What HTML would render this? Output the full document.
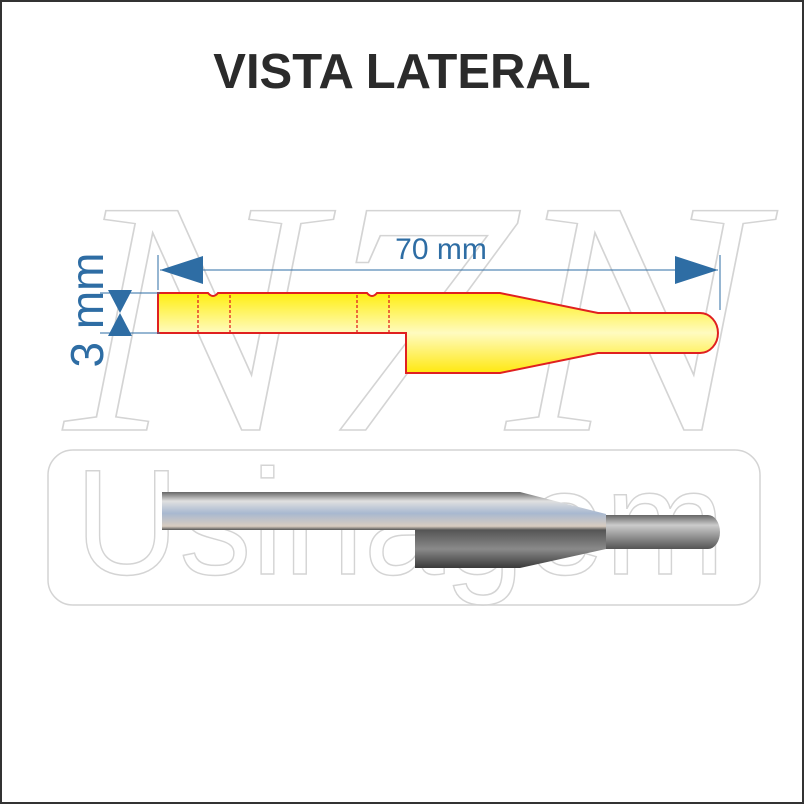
<!DOCTYPE html>
<html><head><style>
body{margin:0;background:#fff}
</style></head><body>
<svg width="804" height="804" viewBox="0 0 804 804" xmlns="http://www.w3.org/2000/svg">
<defs>
<linearGradient id="y" x1="0" y1="0" x2="0" y2="1">
<stop offset="0" stop-color="#ffee10"/><stop offset="0.5" stop-color="#fffbc0"/><stop offset="1" stop-color="#ffe810"/>
</linearGradient>
<linearGradient id="m" gradientUnits="userSpaceOnUse" x1="0" y1="492" x2="0" y2="568">
<stop offset="0" stop-color="#666"/><stop offset="0.12" stop-color="#e0e0e0"/><stop offset="0.28" stop-color="#a8b8d0"/><stop offset="0.45" stop-color="#d8ccc0"/><stop offset="0.5" stop-color="#555"/><stop offset="0.75" stop-color="#8a8a8a"/><stop offset="1" stop-color="#3a3a3a"/>
</linearGradient>
<linearGradient id="t" gradientUnits="userSpaceOnUse" x1="0" y1="515" x2="0" y2="549">
<stop offset="0" stop-color="#666"/><stop offset="0.3" stop-color="#ccc"/><stop offset="0.6" stop-color="#999"/><stop offset="1" stop-color="#555"/>
</linearGradient>
</defs>
<rect x="1" y="1" width="802" height="802" fill="#fff" stroke="#333" stroke-width="2"/>
<text x="402" y="88" font-family="Liberation Sans, sans-serif" font-weight="bold" font-size="49" text-anchor="middle" fill="#2b2b2b">VISTA LATERAL</text>
<!-- watermark -->
<g fill="none" stroke="#d4d4d4" stroke-width="1.5">
<text x="65" y="430" textLength="695" lengthAdjust="spacingAndGlyphs" font-family="Liberation Serif, serif" font-style="italic" font-size="335" fill="none" stroke="#d4d4d4">N7N</text>
<rect x="48" y="450" width="712" height="155" rx="25"/>
<text x="75" y="574" textLength="650" lengthAdjust="spacingAndGlyphs" font-family="Liberation Sans, sans-serif" font-size="150" fill="none" stroke="#d4d4d4">Usinagem</text>
</g>
<!-- yellow part -->
<path d="M158 293 L208 293 Q213 299 218 293 L367 293 Q372 299 377 293 L500 293 L598 313 L700 313 A18 20 0 0 1 700 353 L598 353 L500 373 L406 373 L406 333 L158 333 Z" fill="url(#y)" stroke="#e02020" stroke-width="2"/>
<g stroke="#e02020" stroke-width="1.3" stroke-dasharray="3,2">
<line x1="198" y1="295" x2="198" y2="333"/><line x1="230" y1="295" x2="230" y2="333"/>
<line x1="357" y1="295" x2="357" y2="333"/><line x1="389" y1="295" x2="389" y2="333"/>
</g>
<!-- dimensions -->
<g stroke="#2e6da4" stroke-width="1">
<line x1="158" y1="255" x2="158" y2="290"/><line x1="720" y1="255" x2="720" y2="310"/>
<line x1="160" y1="270" x2="718" y2="270"/>
<line x1="100" y1="293" x2="160" y2="293"/><line x1="100" y1="333" x2="160" y2="333"/>
</g>
<polygon points="160,270 203,256 203,284" fill="#2e6da4"/>
<polygon points="718,270 675,256 675,284" fill="#2e6da4"/>
<polygon points="108,290 132,290 120,313 132,336 108,336 120,313" fill="#2e6da4"/>
<text x="441" y="259" font-family="Liberation Sans, sans-serif" font-size="30" text-anchor="middle" fill="#2e6da4">70 mm</text>
<text transform="translate(103,310) rotate(-90)" font-family="Liberation Sans, sans-serif" font-size="46" text-anchor="middle" fill="#2e6da4">3 mm</text>
<!-- metal part -->
<path d="M605 515 L708 515 A12 17 0 0 1 708 549 L605 549 Z" fill="url(#t)"/>
<path d="M162 492 L520 492 L606 514 L606 549 L520 568 L415 568 L415 530 L162 530 Z" fill="url(#m)"/>
</svg>
</body></html>
